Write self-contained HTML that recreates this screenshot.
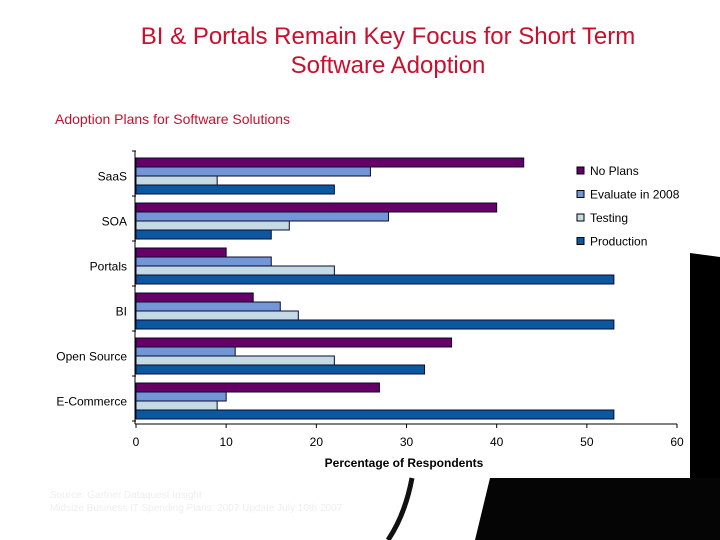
<!DOCTYPE html>
<html><head><meta charset="utf-8">
<style>
body{margin:0;width:720px;height:540px;overflow:hidden;background:#fff;font-family:"Liberation Sans",Arial,sans-serif;}
svg{display:block}
</style></head>
<body>
<svg id="chart" width="720" height="540" xmlns="http://www.w3.org/2000/svg">
  <polygon points="690,253 720,257 720,540 690,540" fill="#000"/>
  <polygon points="490,478 720,478 720,540 475,540" fill="#050505"/>
  <path d="M412,478 Q405,515 388,540" stroke="#111" stroke-width="5" fill="none"/>
  <text x="388" y="44" text-anchor="middle" font-size="24" fill="#c8102e">BI &amp; Portals Remain Key Focus for Short Term</text>
  <text x="388" y="73" text-anchor="middle" font-size="24" fill="#c8102e">Software Adoption</text>
  <text x="55" y="124" font-size="14" fill="#c8102e">Adoption Plans for Software Solutions</text>
  <text x="50" y="498" font-size="10" fill="#eeeeee">Source: Gartner Dataquest Insight</text>
  <text x="50" y="511" font-size="10" fill="#eeeeee">Midsize Business IT Spending Plans: 2007 Update July 10th 2007</text>
  <g id="plot"></g>
</svg>
<script>
const categories = ["SaaS","SOA","Portals","BI","Open Source","E-Commerce"];
const seriesNames = ["No Plans","Evaluate in 2008","Testing","Production"];
const noPlans = [43,40,10,13,35,27];
const evaluate2008 = [26,28,15,16,11,10];
const testing = [9,17,22,18,22,9];
const production = [22,15,53,53,32,53];
const xTicks = [0,10,20,30,40,50,60];

const series = [noPlans, evaluate2008, testing, production];
const colors = ["#660066","#7396d6","#c4dae4","#0a589f"];
const NS = "http://www.w3.org/2000/svg";
const g = document.getElementById("plot");
const x0 = 136, x1 = 677, yTop = 151, groupH = 45, barH = 9, barOff = 7;
const xScale = v => x0 + (v - 0) / (60 - 0) * (x1 - x0);
const yBand = i => yTop + i * groupH;
const axisY = yTop + categories.length * groupH + 3;
function mk(tag, attrs){const e=document.createElementNS(NS,tag);for(const k in attrs)e.setAttribute(k,attrs[k]);g.appendChild(e);return e;}

categories.forEach((c,i)=>{
  series.forEach((s,j)=>{
    const r = mk("rect",{x:xScale(0),y:yBand(i)+barOff+j*barH,width:xScale(s[i])-xScale(0),height:barH,fill:colors[j],stroke:"#0a0a30","stroke-width":1});
    
    
  });
  const t = mk("text",{x:127,y:yBand(i)+groupH/2+7,"text-anchor":"end","font-size":12,fill:"#000"});
  t.textContent = c;
  
  
});
for(let i=0;i<=categories.length;i++){
  const tk = mk("line",{x1:x0-4,x2:x0,y1:yBand(i),y2:yBand(i),stroke:"#000"});
  
  
}
const ya = mk("line",{x1:x0-1,x2:x0-1,y1:yTop,y2:axisY,stroke:"#000"});


const xa = mk("line",{x1:x0-1,x2:x1,y1:axisY,y2:axisY,stroke:"#000"});


xTicks.forEach(v=>{
  const l = mk("line",{x1:xScale(v),x2:xScale(v),y1:axisY,y2:axisY+4,stroke:"#000"});
  
  
  const t = mk("text",{x:xScale(v),y:axisY+22,"text-anchor":"middle","font-size":12,fill:"#000"});
  t.textContent = v;
  
  
});
const xt = mk("text",{x:404,y:467,"text-anchor":"middle","font-size":12,"font-weight":"bold",fill:"#000"});
xt.textContent = "Percentage of Respondents";


seriesNames.forEach((n,j)=>{
  const ly = 167 + j*23.5;
  const sq = mk("rect",{x:577,y:ly,width:7,height:7,fill:colors[j],stroke:"#000","stroke-width":1});
  
  
  const t = mk("text",{x:590,y:ly+8,"font-size":12,fill:"#000"});
  t.textContent = n;
  
  
});
</script>
</body></html>
